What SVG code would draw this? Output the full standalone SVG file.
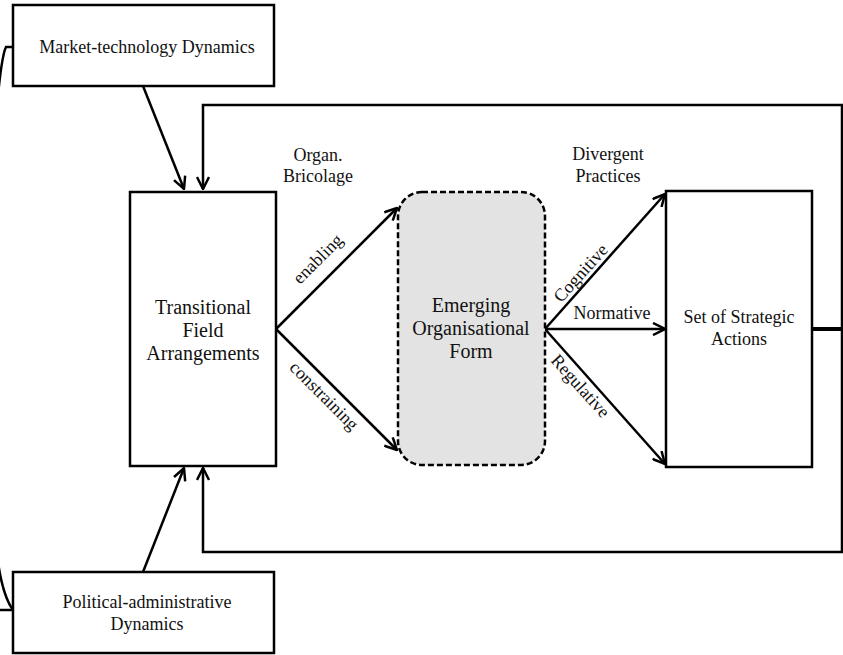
<svg xmlns="http://www.w3.org/2000/svg" width="843" height="655" viewBox="0 0 843 655">
<defs>
<marker id="ah" viewBox="0 0 14 14" refX="13" refY="7" markerWidth="14" markerHeight="14" markerUnits="userSpaceOnUse" orient="auto">
<path d="M1,1 L13,7 L1,13" fill="none" stroke="#000" stroke-width="2.5"/>
</marker>
<style>
.box{fill:#fff;stroke:#000;stroke-width:2.5}
.ln{fill:none;stroke:#000;stroke-width:2.5}
.t{font-family:"Liberation Serif","Times New Roman",serif;fill:#111;text-anchor:middle}
</style>
</defs>
<g id="connectors">
<path class="ln" d="M13,47 L6,47 Q2,55 -2,95"/>
<path class="ln" d="M-3,555 Q2,595 13,610"/>
<line class="ln" x1="-2" y1="610" x2="13" y2="610"/>
<line class="ln" x1="143" y1="86" x2="184" y2="189" marker-end="url(#ah)"/>
<polyline class="ln" points="812,329 842,329" style="stroke-width:4"/>
<polyline class="ln" points="842,329 842,105 203,105 203,189" marker-end="url(#ah)"/>
<polyline class="ln" points="842,329 842,552 203,552 203,468" marker-end="url(#ah)"/>
<line class="ln" x1="143" y1="572" x2="184" y2="468" marker-end="url(#ah)"/>
<line class="ln" x1="276" y1="329" x2="397" y2="208" marker-end="url(#ah)"/>
<line class="ln" x1="276" y1="329" x2="397" y2="450" marker-end="url(#ah)"/>
<line class="ln" x1="545" y1="329" x2="665" y2="194" marker-end="url(#ah)"/>
<line class="ln" x1="545" y1="329" x2="665" y2="329" marker-end="url(#ah)"/>
<line class="ln" x1="545" y1="329" x2="665" y2="464" marker-end="url(#ah)"/>
<text class="t" font-size="18" transform="translate(322,263) rotate(-45)">enabling</text>
<text class="t" font-size="18" transform="translate(320,400) rotate(45)">constraining</text>
<text class="t" font-size="18" transform="translate(585,277) rotate(-48)">Cognitive</text>
<text class="t" font-size="18" x="612" y="319">Normative</text>
<text class="t" font-size="18" transform="translate(576,390) rotate(48)">Regulative</text>
<text class="t" font-size="18" x="318" y="161">Organ.</text>
<text class="t" font-size="18" x="318" y="182">Bricolage</text>
<text class="t" font-size="18" x="608" y="160">Divergent</text>
<text class="t" font-size="18" x="608" y="182">Practices</text>
</g>
<g id="market">
<rect class="box" x="13" y="5" width="261" height="81"/>
<text class="t" font-size="18" x="147" y="53">Market-technology Dynamics</text>
</g>
<g id="political">
<rect class="box" x="13" y="572" width="261" height="81"/>
<text class="t" font-size="18" x="147" y="608">Political-administrative</text>
<text class="t" font-size="18" x="147" y="630">Dynamics</text>
</g>
<g id="transitional">
<rect class="box" x="130" y="192" width="146" height="274"/>
<text class="t" font-size="20" x="203" y="314">Transitional</text>
<text class="t" font-size="20" x="203" y="337">Field</text>
<text class="t" font-size="20" x="203" y="360">Arrangements</text>
</g>
<g id="emerging">
<rect x="398" y="192" width="147" height="273" rx="24" fill="#e3e3e3" stroke="#000" stroke-width="2.5" stroke-dasharray="6,3"/>
<text class="t" font-size="20" x="471" y="312">Emerging</text>
<text class="t" font-size="20" x="471" y="335">Organisational</text>
<text class="t" font-size="20" x="471" y="358">Form</text>
</g>
<g id="strategic">
<rect class="box" x="666" y="191" width="146" height="276"/>
<text class="t" font-size="18" x="739" y="323">Set of Strategic</text>
<text class="t" font-size="18" x="739" y="345">Actions</text>
</g>
</svg>
